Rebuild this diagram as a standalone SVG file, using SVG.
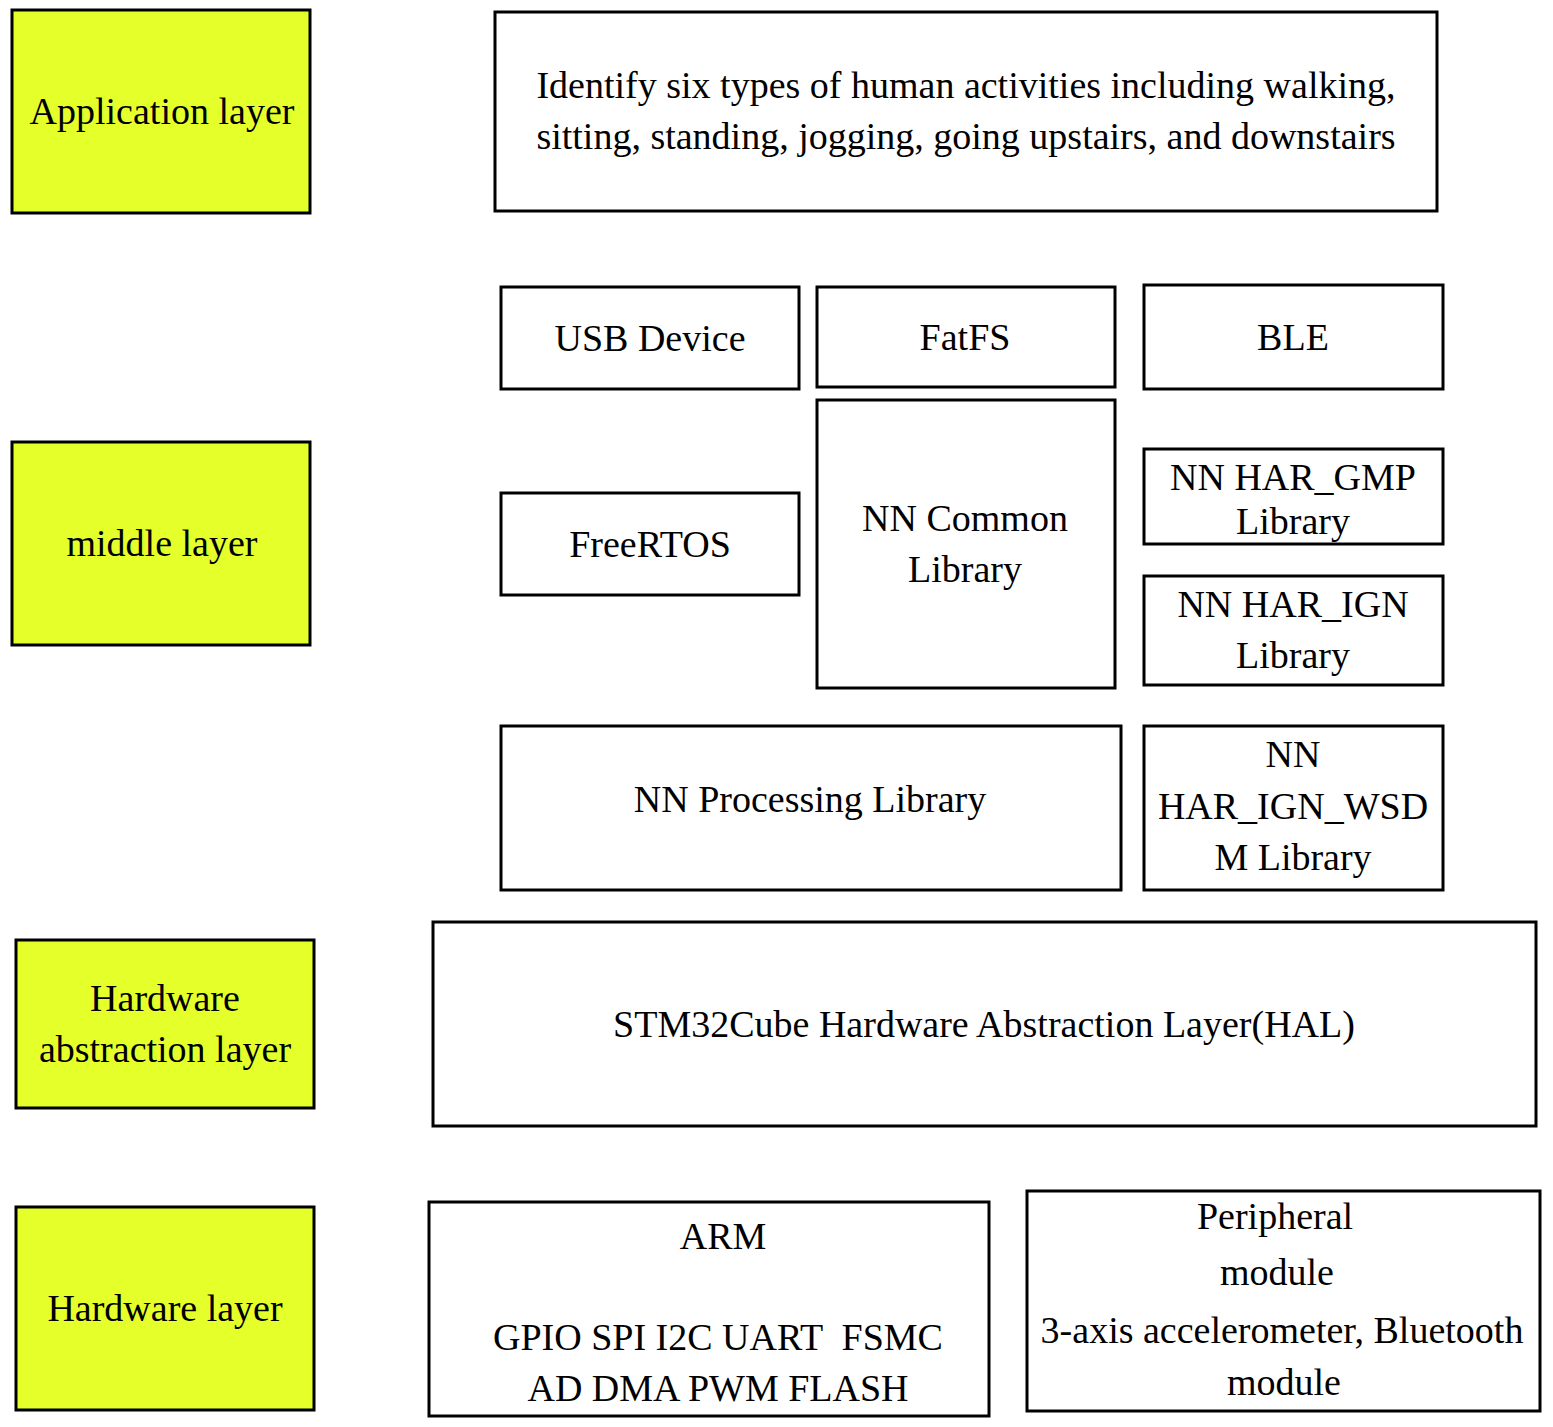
<svg xmlns="http://www.w3.org/2000/svg" width="1553" height="1427" viewBox="0 0 1553 1427">
<style>
rect{fill:#fff;stroke:#000;stroke-width:3}
rect.layer{fill:#e5ff2b}
text{font-family:"Liberation Serif","Times New Roman",serif;font-size:38px;fill:#000;text-anchor:middle}
</style>
<rect x="0" y="0" width="1553" height="1427" style="stroke:none"/>
<g id="layer-app"><rect class="layer" x="12" y="10" width="298" height="203"/><text x="162" y="124">Application layer</text></g>
<g id="layer-middle"><rect class="layer" x="12" y="442" width="298" height="203"/><text x="162" y="556">middle layer</text></g>
<g id="layer-hal"><rect class="layer" x="16" y="940" width="298" height="168"/><text x="165" y="1011">Hardware</text><text x="165" y="1062">abstraction layer</text></g>
<g id="layer-hw"><rect class="layer" x="16" y="1207" width="298" height="203"/><text x="165" y="1321">Hardware layer</text></g>
<g id="app"><rect x="495" y="12" width="942" height="199"/><text x="966" y="98">Identify six types of human activities including walking,</text><text x="966" y="149">sitting, standing, jogging, going upstairs, and downstairs</text></g>
<g id="usb"><rect x="501" y="287" width="298" height="102"/><text x="650" y="351">USB Device</text></g>
<g id="fatfs"><rect x="817" y="287" width="298" height="100"/><text x="965" y="350">FatFS</text></g>
<g id="ble"><rect x="1144" y="285" width="299" height="104"/><text x="1293" y="350">BLE</text></g>
<g id="freertos"><rect x="501" y="493" width="298" height="102"/><text x="650" y="557">FreeRTOS</text></g>
<g id="nncommon"><rect x="817" y="400" width="298" height="288"/><text x="965" y="531">NN Common</text><text x="965" y="582">Library</text></g>
<g id="gmp"><rect x="1144" y="449" width="299" height="95"/><text x="1293" y="490">NN HAR_GMP</text><text x="1293" y="534">Library</text></g>
<g id="ign"><rect x="1144" y="576" width="299" height="109"/><text x="1293" y="617">NN HAR_IGN</text><text x="1293" y="668">Library</text></g>
<g id="nnproc"><rect x="501" y="726" width="620" height="164"/><text x="810" y="812">NN Processing Library</text></g>
<g id="wsdm"><rect x="1144" y="726" width="299" height="164"/><text x="1293" y="767">NN</text><text x="1293" y="819">HAR_IGN_WSD</text><text x="1293" y="870">M Library</text></g>
<g id="hal"><rect x="433" y="922" width="1103" height="204"/><text x="984" y="1037">STM32Cube Hardware Abstraction Layer(HAL)</text></g>
<g id="arm"><rect x="429" y="1202" width="560" height="214"/><text x="723" y="1249">ARM</text><text x="718" y="1350" xml:space="preserve">GPIO SPI I2C UART  FSMC</text><text x="718" y="1401">AD DMA PWM FLASH</text></g>
<g id="periph"><rect x="1027" y="1191" width="513" height="220"/><text x="1275" y="1229">Peripheral</text><text x="1277" y="1285">module</text><text x="1282" y="1343">3-axis accelerometer, Bluetooth</text><text x="1284" y="1395">module</text></g>
<g id="connectors"></g>
</svg>
